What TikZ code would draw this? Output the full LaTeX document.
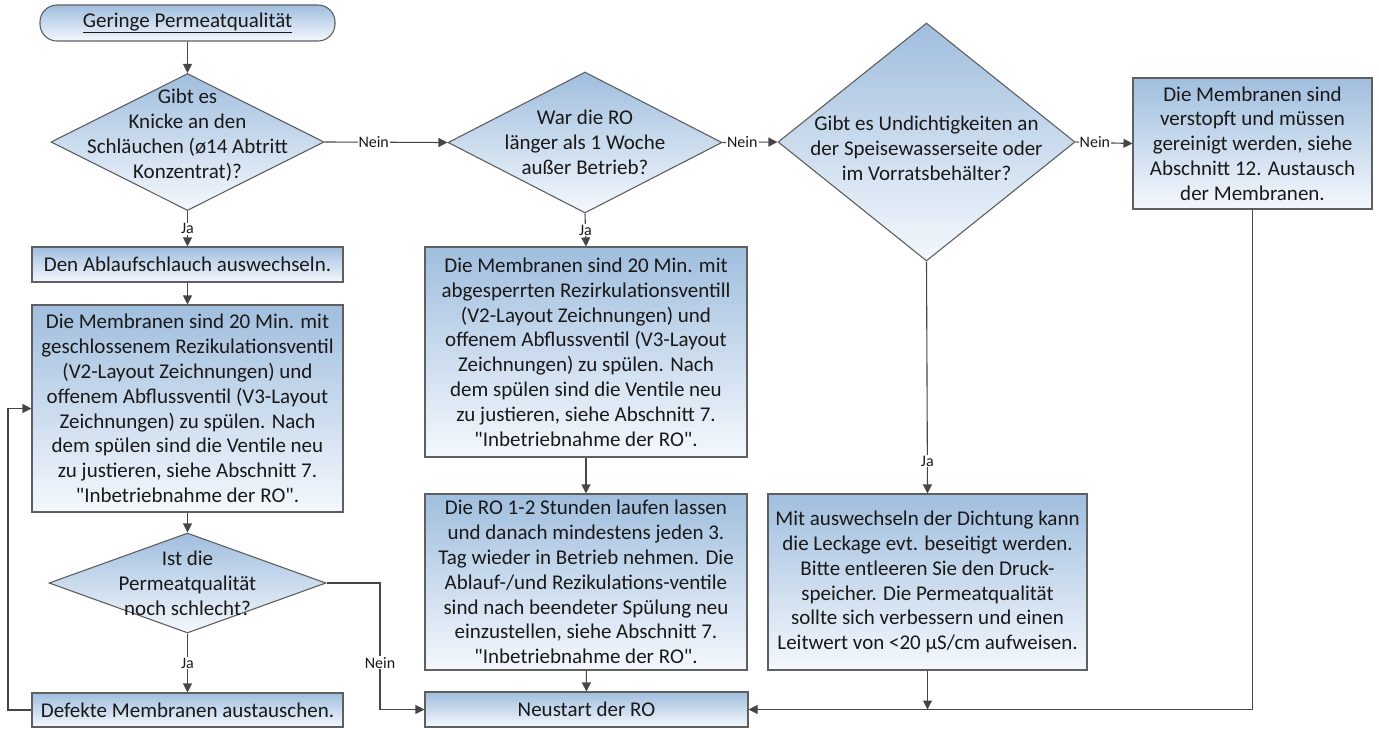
\documentclass[tikz,border=0pt]{standalone}
\usepackage{fontspec}
\setmainfont{Carlito}
\usetikzlibrary{shapes.geometric,arrows.meta}
\definecolor{btop}{RGB}{160,190,222}
\definecolor{bbot}{RGB}{244,248,253}
\definecolor{bord}{RGB}{95,95,95}
\definecolor{arrc}{RGB}{70,70,70}
\definecolor{txt}{RGB}{25,25,25}
\newcommand{\sq}{\XeTeXglyph\XeTeXcharglyph34\relax}
\begin{document}
\begin{tikzpicture}[x=1pt,y=-1pt,
  mainfont/.style={font=\fontsize{21}{24.8}\selectfont},
  shade/.style={draw=bord,line width=1.1pt,top color=btop,bottom color=bbot},
  box/.style={rectangle,shade,align=center,inner sep=0pt,text=txt,mainfont},
  term/.style={box,rounded corners=17pt},
  dec/.style={diamond,shade,inner sep=0pt},
  dectext/.style={align=center,inner sep=0pt,text=txt,mainfont},
  arr/.style={draw=arrc,line width=1.1pt,-{Triangle[length=9pt,width=9pt]}},
  lab/.style={fill=white,inner sep=1pt,text=txt,font=\fontsize{16}{18}\selectfont}
]
\useasboundingbox (0,0) rectangle (1379,729);

% start
\node[term,minimum width=295pt,minimum height=36pt] (start) at (187.5,23) {\underline{Geringe Permeatqualität}};

% decision 1
\node[dec,minimum width=273pt,minimum height=137pt] (d1) at (187.5,142) {};
\node[dectext] (d1t) at (187.5,135) {Gibt es\\Knicke an den\\Schläuchen (ø14 Abtritt\\Konzentrat)?};

% left column
\node[box,minimum width=311pt,minimum height=35pt] (b2) at (187.5,264.5) {Den Ablaufschlauch auswechseln.};
\node[box,minimum width=311pt,minimum height=207pt] (b3) at (187.5,408.5) {Die Membranen sind 20 Min. mit\\geschlossenem Rezikulationsventil\\(V2-Layout Zeichnungen) und\\offenem Abflussventil (V3-Layout\\Zeichnungen) zu spülen. Nach\\dem spülen sind die Ventile neu\\zu justieren, siehe Abschnitt 7.\\\sq Inbetriebnahme der RO\sq.};
\node[dec,minimum width=277pt,minimum height=100pt] (d2) at (187.5,583) {};
\node[dectext] (d2t) at (187.5,583) {Ist die\\Permeatqualität\\noch schlecht?};
\node[box,minimum width=311pt,minimum height=34pt] (b4) at (187.5,710) {Defekte Membranen austauschen.};

% decision 2
\node[dec,minimum width=274pt,minimum height=141pt] (d3) at (585,142.5) {};
\node[dectext] (d3t) at (585,142) {War die RO\\länger als 1 Woche\\außer Betrieb?};

% middle column
\node[box,minimum width=322pt,minimum height=210pt] (m1) at (586,352) {Die Membranen sind 20 Min. mit\\abgesperrten Rezirkulationsventill\\(V2-Layout Zeichnungen) und\\offenem Abflussventil (V3-Layout\\Zeichnungen) zu spülen. Nach\\dem spülen sind die Ventile neu\\zu justieren, siehe Abschnitt 7.\\\sq Inbetriebnahme der RO\sq.};
\node[box,minimum width=322pt,minimum height=176pt] (m2) at (586,582) {Die RO 1-2 Stunden laufen lassen\\und danach mindestens jeden 3.\\Tag wieder in Betrieb nehmen. Die\\Ablauf-/und Rezikulations-ventile\\sind nach beendeter Spülung neu\\einzustellen, siehe Abschnitt 7.\\\sq Inbetriebnahme der RO\sq.};
\node[box,minimum width=323pt,minimum height=35pt] (neu) at (586.5,709.5) {Neustart der RO};

% decision 3
\node[dec,minimum width=297pt,minimum height=238pt] (d4) at (926.5,142) {};
\node[dectext] (d4t) at (926.5,148) {Gibt es Undichtigkeiten an\\der Speisewasserseite oder\\im Vorratsbehälter?};

% right column
\node[box,minimum width=319pt,minimum height=176pt] (m3) at (927.5,582) {Mit auswechseln der Dichtung kann\\die Leckage evt. beseitigt werden.\\Bitte entleeren Sie den Druck-\\speicher. Die Permeatqualität\\sollte sich verbessern und einen\\Leitwert von <20 µS/cm aufweisen.};
\node[box,minimum width=239pt,minimum height=131pt] (r1) at (1252.5,143.5) {Die Membranen sind\\verstopft und müssen\\gereinigt werden, siehe\\Abschnitt 12. Austausch\\der Membranen.};

% connectors
\draw[arr] (start) -- (d1);
\draw[arr] (d1.south) -- node[lab]{Ja} (b2.north);
\draw[arr] (b2) -- (b3);
\draw[arr] (b3) -- (d2);
\draw[arr] (d2.south) -- node[lab]{Ja} (b4.north);
\coordinate (loopx) at (8,710);
\draw[arr] (b4.west) -- (loopx) |- (b3.west);
\coordinate (nk) at (380,583);
\coordinate (nk2) at (380,709.5);
\draw[arr] (d2.east) -- (nk) -- node[lab,pos=0.63]{Nein} (nk2) -- (neu.west);
\draw[arr] (d1.east) -- node[lab,pos=0.4]{Nein} (d3.west);
\draw[arr] (d3.east) -- node[lab,pos=0.36]{Nein} (d4.west);
\draw[arr] (d4.east) -- node[lab,pos=0.34]{Nein} (r1.west);
\draw[arr] (d3.south) -- node[lab]{Ja} (m1.north);
\draw[arr] (m1) -- (m2);
\draw[arr] (m2) -- (neu);
\draw[arr] (d4.south) -- node[lab,pos=0.86]{Ja} (m3.north);
\draw[arr] (r1.south) |- (neu.east);
\coordinate (m3j) at (m3.south |- neu.east);
\draw[arr] (m3.south) -- (m3j);
\end{tikzpicture}
\end{document}
